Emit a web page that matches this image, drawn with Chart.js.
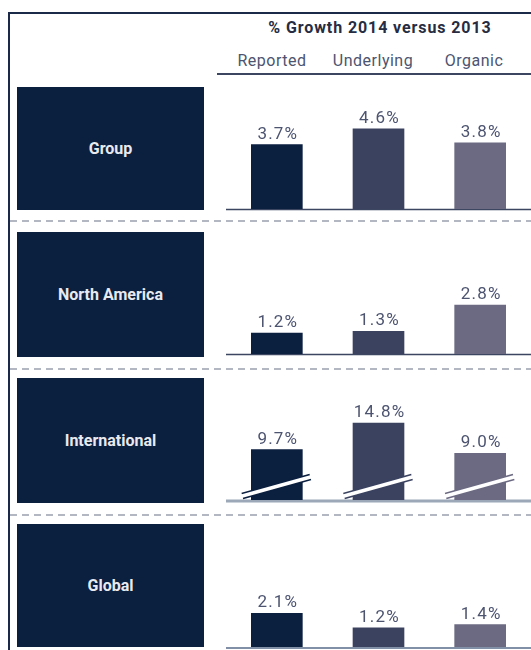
<!DOCTYPE html>
<html>
<head>
<meta charset="utf-8">
<script src="https://cdn.jsdelivr.net/npm/chart.js@4/dist/chart.umd.min.js"></script>
<style>
  html, body { margin: 0; padding: 0; background: #ffffff; }
  body { width: 531px; height: 650px; position: relative; overflow: hidden; font-family: Roboto, "Open Sans", sans-serif; }
  .frame { position: absolute; left: 8px; top: 12px; width: 540px; height: 660px; border-left: 2px solid #1b2a48; border-top: 2px solid #1b2a48; box-sizing: border-box; }
  .title { position: absolute; left: 217px; width: 326px; top: 18px; text-align: center; font-weight: 700; font-size: 16px; letter-spacing: 0.9px; color: #262c42; }
  .sub { position: absolute; top: 51px; font-weight: 400; font-size: 16px; letter-spacing: 0.5px; color: #4d5470; transform: translateX(-50%); white-space: nowrap; }
  .hline { position: absolute; left: 217px; top: 73px; width: 320px; height: 1.5px; background: #3c4660; }
  .box { position: absolute; left: 17px; width: 187px; background: #0b1f3f; display: flex; align-items: center; justify-content: center; color: #e8eaef; font-weight: 700; font-size: 16px; }
  .dash { position: absolute; left: 10px; width: 525px; height: 2px; background: repeating-linear-gradient(to right, #b3b7c1 0 7px, transparent 7px 12px); }
  canvas.panel { position: absolute; left: 226px; }
</style>
</head>
<body>
<div class="frame"></div>
<div class="title">% Growth 2014 versus 2013</div>
<div class="hline"></div>
<div id="root"></div>
<script>
// ---- data ----
const regions = ['Group', 'North America', 'International', 'Global'];
const measures = ['Reported', 'Underlying', 'Organic'];
const reported = [3.7, 1.2, 9.7, 2.1];
const underlying = [4.6, 1.3, 14.8, 1.2];
const organic = [3.8, 2.8, 9.0, 1.4];
const brokenAxis = [false, false, true, false];
const axisMax = [7, 7, 23.5, 7.7];
const title = '% Growth 2014 versus 2013';

// ---- layout / style ----
const barColors = ['#0b1f3f', '#3a4260', '#6b6a82'];
const panelTops = [87, 232, 378, 524];
const boxHeights = [123, 125, 125, 123];
const chartHeights = [122, 122, 122, 123];
const baseStyles = [
  { color: '#3c4660', width: 1.5, off: 0.5 },
  { color: '#3c4660', width: 1.5, off: 0.5 },
  { color: '#9ca8b8', width: 3, off: 1 },
  { color: '#8190a7', width: 2, off: 1 }
];
const dashYs = [220, 368, 514];
const subCenters = [272, 373, 474];

document.querySelector('.title').textContent = title;
const root = document.getElementById('root');

measures.forEach((m, i) => {
  const d = document.createElement('div');
  d.className = 'sub';
  d.style.left = subCenters[i] + 'px';
  d.textContent = m;
  root.appendChild(d);
});

dashYs.forEach(y => {
  const d = document.createElement('div');
  d.className = 'dash';
  d.style.top = y + 'px';
  root.appendChild(d);
});

const valueLabels = {
  id: 'valueLabels',
  afterDatasetsDraw(chart) {
    const ctx = chart.ctx;
    const meta = chart.getDatasetMeta(0);
    ctx.save();
    ctx.font = '400 17px Roboto, "Open Sans", sans-serif';
    try { ctx.letterSpacing = '1.2px'; } catch (e) {}
    ctx.fillStyle = '#4d5470';
    ctx.textAlign = 'center';
    ctx.textBaseline = 'alphabetic';
    meta.data.forEach((bar, i) => {
      const v = chart.data.datasets[0].data[i];
      ctx.fillText(v.toFixed(1) + '%', bar.x + 1, bar.y - 6);
    });
    ctx.restore();
  }
};

const baseline = {
  id: 'baseline',
  beforeDatasetsDraw(chart, args, opts) {
    const ctx = chart.ctx;
    const y0 = chart.scales.y.getPixelForValue(0);
    ctx.save();
    ctx.strokeStyle = opts.color;
    ctx.lineWidth = opts.width;
    ctx.beginPath();
    ctx.moveTo(chart.chartArea.left, y0 + opts.off);
    ctx.lineTo(chart.chartArea.right + 10, y0 + opts.off);
    ctx.stroke();
    ctx.restore();
  }
};

const breakMarks = {
  id: 'breakMarks',
  afterDatasetsDraw(chart, args, opts) {
    if (!opts.enabled) return;
    const ctx = chart.ctx;
    const y0 = chart.scales.y.getPixelForValue(0);
    const meta = chart.getDatasetMeta(0);
    ctx.save();
    meta.data.forEach((bar, i) => {
      const half = bar.width / 2;
      const x1 = bar.x - half - 9, y1 = y0 - 4;
      const x2 = bar.x + half + 8, y2 = y0 - 23;
      ctx.lineCap = 'butt';
      ctx.strokeStyle = barColors[i];
      ctx.lineWidth = 6.5;
      ctx.beginPath(); ctx.moveTo(x1, y1); ctx.lineTo(x2, y2); ctx.stroke();
      ctx.strokeStyle = '#ffffff';
      ctx.lineWidth = 3.5;
      ctx.beginPath(); ctx.moveTo(x1 - 1, y1 + 0.3); ctx.lineTo(x2 + 1, y2 - 0.3); ctx.stroke();
    });
    ctx.restore();
  }
};

regions.forEach((r, p) => {
  const box = document.createElement('div');
  box.className = 'box';
  box.style.top = panelTops[p] + 'px';
  box.style.height = boxHeights[p] + 'px';
  box.textContent = r;
  root.appendChild(box);

  const cv = document.createElement('canvas');
  cv.className = 'panel';
  const h = chartHeights[p] + 4;
  cv.width = 305; cv.height = h;
  cv.style.width = '305px'; cv.style.height = h + 'px';
  cv.style.top = panelTops[p] + 'px';
  root.appendChild(cv);

  new Chart(cv, {
    type: 'bar',
    data: {
      labels: measures,
      datasets: [{
        data: [reported[p], underlying[p], organic[p]],
        backgroundColor: barColors,
        borderWidth: 0,
        barThickness: 51
      }]
    },
    options: {
      responsive: false,
      animation: false,
      layout: { padding: { top: 0, bottom: 4, left: 0, right: 0 } },
      plugins: {
        legend: { display: false },
        tooltip: { enabled: false },
        baseline: baseStyles[p],
        breakMarks: { enabled: brokenAxis[p] }
      },
      scales: {
        x: { display: false, offset: true },
        y: { display: false, min: 0, max: axisMax[p] }
      }
    },
    plugins: [baseline, valueLabels, breakMarks]
  });
});
</script>
</body>
</html>
